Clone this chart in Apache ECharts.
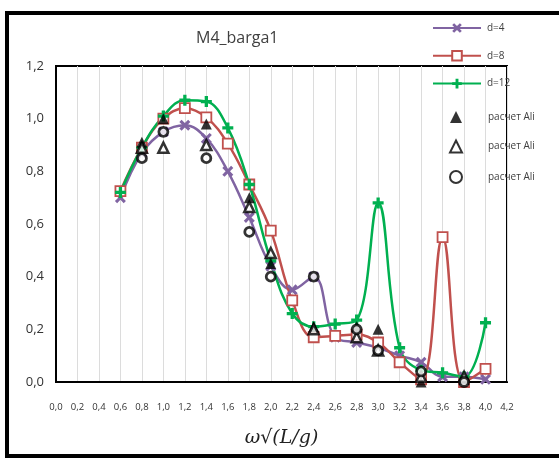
<!DOCTYPE html>
<html><head><meta charset="utf-8">
<script src="https://cdn.jsdelivr.net/npm/echarts@6/dist/echarts.min.js"></script>
<style>html,body{margin:0;padding:0;background:#fff;overflow:hidden}#c{width:559px;height:459px}</style>
</head><body><div id="c"></div>
<script>
var xLine = [0.6,0.8,1.0,1.2,1.4,1.6,1.8,2.0,2.2,2.4,2.6,2.8,3.0,3.2,3.4,3.6,3.8,4.0];
var d4  = [0.70,0.87,0.95,0.975,0.925,0.80,0.625,0.44,0.35,0.40,0.17,0.15,0.13,0.10,0.075,0.02,0.02,0.01];
var d8  = [0.725,0.89,1.00,1.04,1.005,0.905,0.75,0.575,0.31,0.17,0.175,0.18,0.15,0.075,0.01,0.55,0.0,0.05];
var d12 = [0.72,0.89,1.01,1.07,1.065,0.965,0.75,0.46,0.26,0.21,0.22,0.235,0.68,0.13,0.045,0.035,0.02,0.225];
var xAli = [0.8,1.0,1.4,1.8,2.0,2.4,2.8,3.0,3.4,3.8];
var ali1 = [0.91,1.00,0.98,0.70,0.45,0.21,0.21,0.20,0.00,0.01];
var ali2 = [0.89,0.89,0.90,0.665,0.49,0.20,0.17,0.12,0.02,0.02];
var ali3 = [0.85,0.95,0.85,0.57,0.40,0.40,0.20,0.12,0.04,0.00];
var names = ['d=4','d=8','d=12','расчет Ali','расчет Ali ','расчет Ali  '];
var titleText = 'M4_barga1';
var xName = 'ω√(L/g)';

function pairs(xs, ys){ return xs.map(function(x,i){return [x, ys[i]];}); }
var crossX = 'path://M0,2L2,0L5,3L8,0L10,2L7,5L10,8L8,10L5,7L2,10L0,8L3,5Z';
var plusP = 'path://M3.5,0H6.5V3.5H10V6.5H6.5V10H3.5V6.5H0V3.5H3.5Z';
function lineSeries(name, ys, color, symbol, size, fill){
  return {name:name, type:'line', data:pairs(xLine, ys), smooth:0.4,
    symbol:symbol, symbolSize:size, showSymbol:true,
    lineStyle:{color:color, width:2.5},
    itemStyle:{color:fill||color, borderColor:color, borderWidth: fill?1.8:0},
    z:2};
}
function aliSeries(name, ys, symbol, size, fill, bw){
  return {name:name, type:'scatter', data:pairs(xAli, ys), symbol:symbol, symbolSize:size,
    itemStyle:{color:fill, borderColor:'#000', borderWidth:bw}, z:5};
}
var chart = echarts.init(document.getElementById('c'));
chart.setOption({
  animation:false,
  backgroundColor:'#fff',
  title:{text:titleText, left:191, top:25, textStyle:{fontFamily:'Open Sans', fontSize:16, fontWeight:'normal', color:'#404040'}},
  graphic:[
    {type:'rect', shape:{x:7,y:13,width:600,height:443}, style:{fill:'none', stroke:'#000', lineWidth:4}, z:-1}
  ],
  legend:[
    {orient:'vertical', left:427, top:18, itemWidth:48, itemHeight:12, itemGap:17,
      textStyle:{fontFamily:'Open Sans', fontSize:10, color:'#404040', padding:[0,0,0,1]},
      data:names.slice(0,3)},
    {orient:'vertical', left:444, top:106, itemWidth:12, itemHeight:12, itemGap:16.5,
      textStyle:{fontFamily:'Open Sans', fontSize:10, color:'#404040', padding:[0,0,0,21]},
      data:names.slice(3)}
  ],
  grid:{left:56, right:52, top:66, bottom:77, show:true, borderColor:'#000', borderWidth:2,
    outerBoundsMode:'none', containLabel:false},
  xAxis:{type:'value', min:0, max:4.2, interval:0.2,
    name:xName, nameLocation:'middle', nameGap:47,
    nameTextStyle:{fontFamily:'DejaVu Serif', fontStyle:'italic', fontSize:19, color:'#222'},
    axisLine:{lineStyle:{color:'#000', width:2}}, axisTick:{show:false},
    axisLabel:{margin:20, fontFamily:'Open Sans', fontSize:9.5, color:'#333',
      formatter:function(v){return v.toFixed(1).replace('.',',');}},
    splitLine:{show:true, lineStyle:{color:'#dcdcdc', width:1}}},
  yAxis:{type:'value', min:0, max:1.2, interval:0.2,
    axisLine:{show:true, lineStyle:{color:'#000', width:2}}, axisTick:{show:false},
    axisLabel:{margin:12, fontFamily:'Open Sans', fontSize:13, color:'#333',
      formatter:function(v){return v.toFixed(1).replace('.',',');}},
    splitLine:{show:false}},
  series:[
    lineSeries(names[0], d4, '#8064A2', crossX, 11),
    lineSeries(names[1], d8, '#C0504D', 'rect', 10, '#fff'),
    lineSeries(names[2], d12, '#00B050', plusP, 11),
    aliSeries(names[3], ali1, 'triangle', 11, '#000', 0),
    aliSeries(names[4], ali2, 'triangle', 10, '#fff', 2.5),
    aliSeries(names[5], ali3, 'circle', 9, '#fff', 2.8)
  ]
});
</script></body></html>
